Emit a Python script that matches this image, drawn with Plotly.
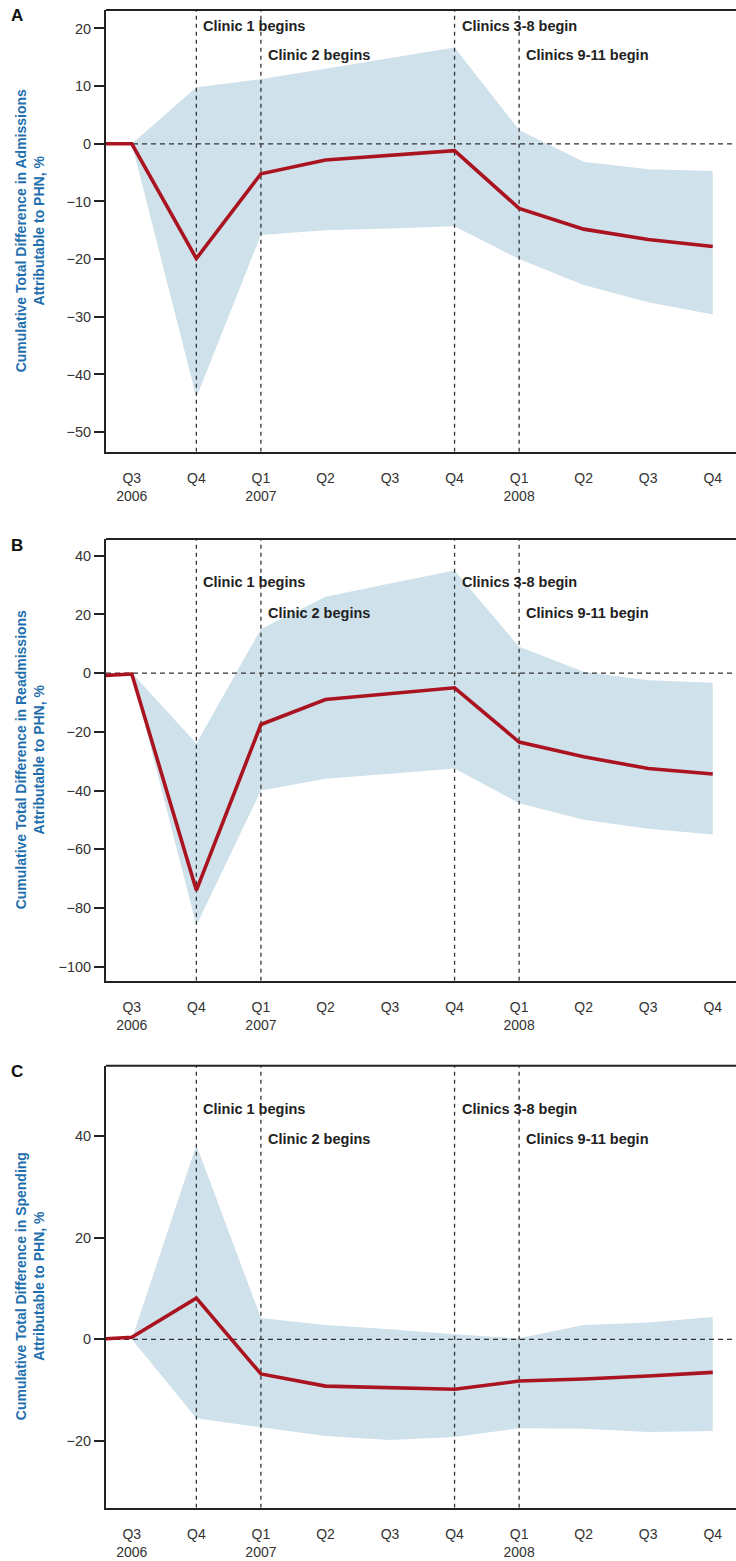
import plotly.graph_objects as go

# ---------------- data ----------------
quarter_labels = ["Q3<br>2006", "Q4", "Q1<br>2007", "Q2", "Q3", "Q4",
                  "Q1<br>2008", "Q2", "Q3", "Q4"]
quarter_idx = list(range(10))
lead_idx = -1  # Q2 2006 (pre-period point, cropped at left edge)

adm_lead = 0.0
adm_est = [0.0, -19.9, -5.2, -2.8, -2.0, -1.2, -11.2, -14.8, -16.6, -17.8]
adm_hi = [0.0, 9.8, 11.2, 13.0, 14.8, 16.7, 2.4, -3.1, -4.4, -4.7]
adm_lo = [0.0, -44.0, -15.8, -15.0, -14.7, -14.3, -20.0, -24.5, -27.5, -29.6]

readm_lead = -1.5
readm_est = [-0.3, -74.0, -17.5, -9.0, -7.0, -5.0, -23.5, -28.5, -32.5, -34.4]
readm_hi = [0.0, -24.0, 15.0, 26.0, 30.5, 35.0, 9.0, 0.5, -2.4, -3.3]
readm_lo = [0.0, -86.0, -40.0, -36.0, -34.3, -32.5, -44.3, -50.0, -53.0, -55.0]

spend_lead = -0.3
spend_est = [0.4, 8.1, -6.8, -9.2, -9.5, -9.8, -8.2, -7.8, -7.2, -6.5]
spend_hi = [0.0, 38.2, 4.2, 2.8, 2.0, 1.0, 0.2, 2.8, 3.3, 4.4]
spend_lo = [0.0, -15.5, -17.3, -19.0, -19.8, -19.2, -17.5, -17.6, -18.2, -18.0]

event_idx = [1, 2, 5, 6]
event_labels = ["Clinic 1 begins", "Clinic 2 begins", "Clinics 3-8 begin", "Clinics 9-11 begin"]

panels = [
    dict(letter="A", title="Cumulative Total Difference in Admissions<br>Attributable to PHN, %",
         lead=adm_lead, est=adm_est, hi=adm_hi, lo=adm_lo,
         yrange=[-53.4, 23.2], ticks=[20, 10, 0, -10, -20, -30, -40, -50],
         top_px=10, bot_px=451.7, ann_y=[0.964, 0.898]),
    dict(letter="B", title="Cumulative Total Difference in Readmissions<br>Attributable to PHN, %",
         lead=readm_lead, est=readm_est, hi=readm_hi, lo=readm_lo,
         yrange=[-104.8, 45.7], ticks=[40, 20, 0, -20, -40, -60, -80, -100],
         top_px=539, bot_px=980.7, ann_y=[0.903, 0.833]),
    dict(letter="C", title="Cumulative Total Difference in Spending<br>Attributable to PHN, %",
         lead=spend_lead, est=spend_est, hi=spend_hi, lo=spend_lo,
         yrange=[-33.1, 53.8], ticks=[40, 20, 0, -20],
         top_px=1065.7, bot_px=1507.7, ann_y=[0.902, 0.834]),
]

# ---------------- style ----------------
W, H = 736, 1561
LEFT_PX = 106
BAND = "#cfe1ea"
RED = "#aa1420"
INK = "#222222"
BLUE = "#1f6fae"
FONT = "Liberation Sans, Arial, sans-serif"
XRANGE = [-0.40, 9.36]

fig = go.Figure()
layout = dict(width=W, height=H, margin=dict(l=0, r=0, t=0, b=0, pad=0),
              paper_bgcolor="white", plot_bgcolor="white", showlegend=False,
              font=dict(family=FONT, color=INK), annotations=[], shapes=[])

for i, p in enumerate(panels):
    n = "" if i == 0 else str(i + 1)
    xa, ya = "x" + n, "y" + n
    dom = [1 - p["bot_px"] / H, 1 - p["top_px"] / H]

    # confidence band
    fig.add_trace(go.Scatter(x=quarter_idx, y=p["lo"], mode="lines",
                             line=dict(width=0, color=BAND), hoverinfo="skip",
                             xaxis=xa, yaxis=ya))
    fig.add_trace(go.Scatter(x=quarter_idx, y=p["hi"], mode="lines", fill="tonexty",
                             fillcolor=BAND, line=dict(width=0, color=BAND),
                             hoverinfo="skip", xaxis=xa, yaxis=ya))
    # reference lines
    fig.add_trace(go.Scatter(x=XRANGE, y=[0, 0], mode="lines",
                             line=dict(color="#333333", width=1.3, dash="5px,4px"),
                             hoverinfo="skip", xaxis=xa, yaxis=ya))
    for e in event_idx:
        fig.add_trace(go.Scatter(x=[e, e], y=p["yrange"], mode="lines",
                                 line=dict(color="#333333", width=1.3, dash="4px,4px"),
                                 hoverinfo="skip", xaxis=xa, yaxis=ya))
    # estimate
    fig.add_trace(go.Scatter(x=[lead_idx] + quarter_idx, y=[p["lead"]] + p["est"],
                             mode="lines", line=dict(color=RED, width=3.6),
                             xaxis=xa, yaxis=ya))

    layout["xaxis" + n] = dict(domain=[LEFT_PX / W, 1], anchor=ya, range=XRANGE,
                               tickmode="array", tickvals=quarter_idx,
                               ticktext=quarter_labels, ticks="outside", ticklen=12,
                               tickcolor="rgba(0,0,0,0)", showline=True, linewidth=2,
                               linecolor=INK, showgrid=False, zeroline=False,
                               tickfont=dict(size=14, color="#333333", family=FONT),
                               fixedrange=True, automargin=False)
    layout["yaxis" + n] = dict(domain=dom, anchor=xa, range=p["yrange"],
                               tickmode="array", tickvals=p["ticks"], ticks="outside",
                               ticklen=10, tickwidth=2, tickcolor=INK, showline=True,
                               linewidth=2, linecolor=INK, showgrid=False, zeroline=False,
                               tickfont=dict(size=14.5, color="#333333", family=FONT),
                               fixedrange=True, automargin=False)
    # top border
    layout["shapes"].append(dict(type="line", xref=xa + " domain", yref=ya + " domain",
                                 x0=0, x1=1, y0=1, y1=1,
                                 line=dict(color=INK, width=2)))
    # event labels
    for k, (e, lab) in enumerate(zip(event_idx, event_labels)):
        layout["annotations"].append(dict(
            x=e, y=p["ann_y"][k % 2], xref=xa, yref=ya + " domain", text=lab,
            showarrow=False, xanchor="left", yanchor="middle", xshift=5,
            font=dict(size=14.5, color=INK, family=FONT, weight="bold")))
    # y title
    layout["annotations"].append(dict(
        x=29.5 / W, y=0.5, xref="paper", yref=ya + " domain", text=p["title"],
        textangle=-90, showarrow=False, xanchor="center", yanchor="middle",
        font=dict(size=14, color=BLUE, family=FONT, weight="bold")))
    # panel letter
    layout["annotations"].append(dict(
        x=17 / W, y=1 - (p["top_px"] + 6) / H, xref="paper", yref="paper",
        text=p["letter"], showarrow=False, xanchor="center", yanchor="middle",
        font=dict(size=17, color="#111111", family=FONT, weight="bold")))

fig.update_layout(**layout)
fig.write_html("out.html", config={"displayModeBar": False},
               post_script="document.body.style.margin='0px';document.body.style.padding='0px';")
